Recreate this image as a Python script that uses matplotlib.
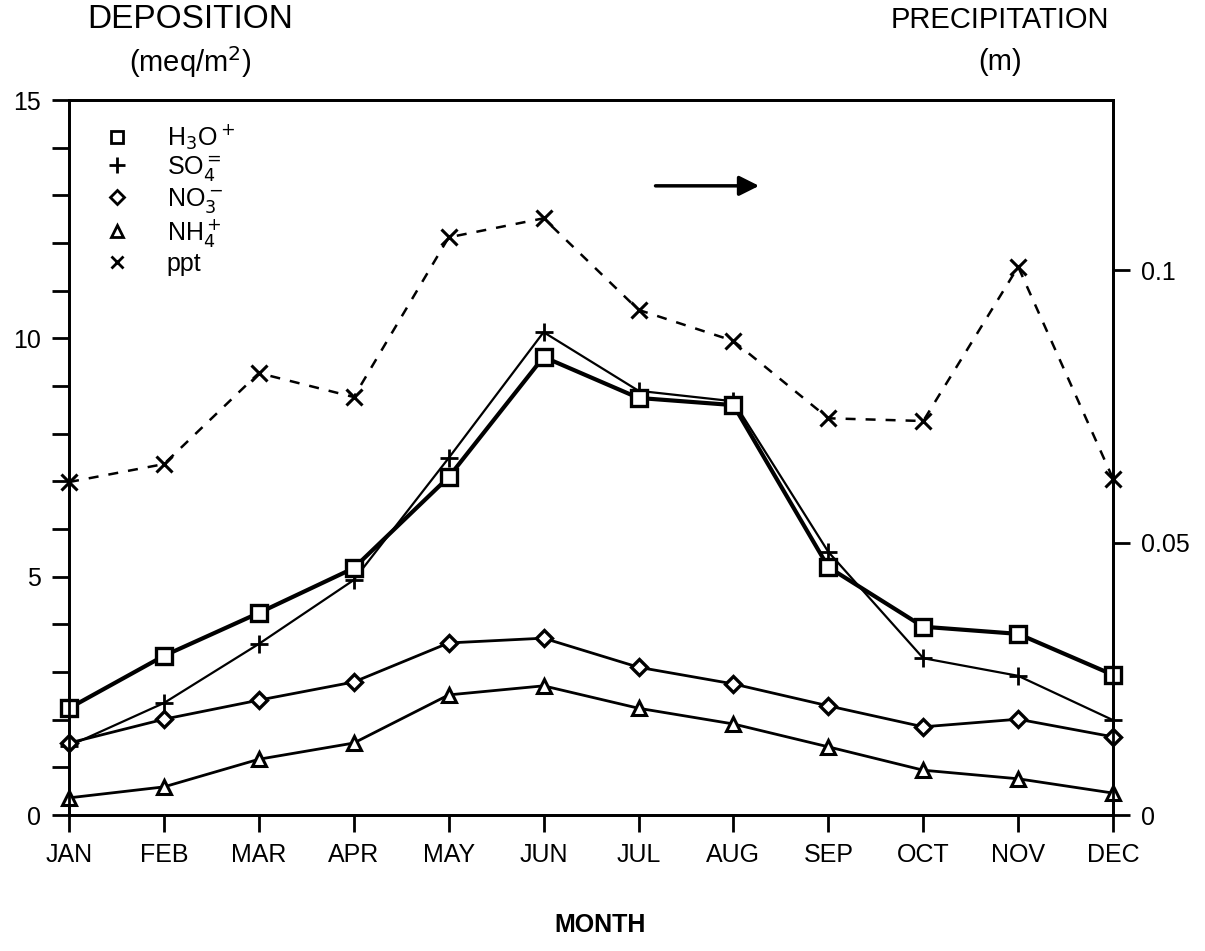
import matplotlib.pyplot as plt
from matplotlib.lines import Line2D

plt.rcParams['font.family'] = ['Liberation Sans', 'DejaVu Sans']

months = ['JAN', 'FEB', 'MAR', 'APR', 'MAY', 'JUN', 'JUL', 'AUG', 'SEP', 'OCT', 'NOV', 'DEC']

# deposition, meq/m2
h3o = [2.24, 3.34, 4.24, 5.18, 7.09, 9.61, 8.75, 8.60, 5.20, 3.95, 3.80, 2.94]
so4 = [1.45, 2.35, 3.59, 4.93, 7.49, 10.13, 8.90, 8.68, 5.52, 3.29, 2.92, 1.99]
no3 = [1.51, 2.01, 2.41, 2.79, 3.61, 3.71, 3.10, 2.75, 2.29, 1.85, 2.01, 1.64]
nh4 = [0.36, 0.59, 1.17, 1.51, 2.52, 2.71, 2.24, 1.91, 1.43, 0.94, 0.76, 0.46]

# precipitation, m
ppt = [0.0611, 0.0644, 0.0811, 0.0767, 0.1060, 0.1095, 0.0927, 0.0870, 0.0728, 0.0723, 0.1006, 0.0617]

x = list(range(len(months)))

fig = plt.figure(figsize=(12.05, 9.51), dpi=100)
ax = fig.add_axes([0.0573, 0.1430, 0.8664, 0.7518])
ax2 = ax.twinx()

ax.plot(x, h3o, color='black', lw=3, marker='s', ms=11, mfc='white', mew=2.4, clip_on=False, zorder=4)
ax.plot(x, so4, color='black', lw=1.6, marker='+', ms=13, mew=2, clip_on=False, zorder=3)
ax.plot(x, no3, color='black', lw=2, marker='D', ms=8, mfc='white', mew=2.4, clip_on=False, zorder=3)
ax.plot(x, nh4, color='black', lw=2, marker='^', ms=10, mfc='white', mew=2.2, clip_on=False, zorder=3)
ax2.plot(x, ppt, color='black', lw=1.8, ls=(0, (4, 4)), marker='x', ms=11, mew=2.2, clip_on=False)

ax.set_xlim(0, 11)
ax.set_ylim(0, 15)
ax2.set_ylim(0, 0.1312)

ax.set_xticks(x)
ax.set_xticklabels(months)
ax.set_yticks([0, 5, 10, 15])
ax.set_yticklabels(['0', '5', '10', '15'])
ax.set_yticks(range(16), minor=True)
ax2.set_yticks([0, 0.05, 0.1])
ax2.set_yticklabels(['0', '0.05', '0.1'])

for a in (ax, ax2):
    for s in a.spines.values():
        s.set_linewidth(2)
ax.tick_params(axis='both', which='both', direction='out', length=12, width=2, labelsize=18, pad=8)
ax.tick_params(axis='y', which='minor', length=12, width=2)
ax2.tick_params(axis='y', direction='out', length=12, width=2, labelsize=18, pad=8)

handles = [
    Line2D([], [], ls='none', marker='s', ms=9, mfc='white', mec='black', mew=2),
    Line2D([], [], ls='none', marker='+', ms=11, mec='black', mew=2),
    Line2D([], [], ls='none', marker='D', ms=7, mfc='white', mec='black', mew=2),
    Line2D([], [], ls='none', marker='^', ms=9, mfc='white', mec='black', mew=2),
    Line2D([], [], ls='none', marker='x', ms=9, mec='black', mew=2),
]
labels = ['H$_3$O$^+$', 'SO$_4^{=}$', 'NO$_3^-$', 'NH$_4^+$', 'ppt']
ax.legend(handles, labels, loc='upper left', frameon=False, fontsize=18,
          handletextpad=1.0, labelspacing=0.1, borderaxespad=0.5)

ax.annotate('', xy=(7.3, 13.2), xytext=(6.15, 13.2),
            arrowprops=dict(arrowstyle='-|>', color='black', lw=2.5, mutation_scale=30))

fig.text(190 / 1205, 1 - 20 / 951, 'DEPOSITION', ha='center', va='center', fontsize=24)
fig.text(190 / 1205, 1 - 62 / 951, '(meq/m$^2$)', ha='center', va='center', fontsize=21)
fig.text(1000 / 1205, 1 - 20 / 951, 'PRECIPITATION', ha='center', va='center', fontsize=21)
fig.text(1000 / 1205, 1 - 62 / 951, '(m)', ha='center', va='center', fontsize=21)
fig.text(600 / 1205, 1 - 925 / 951, 'MONTH', ha='center', va='center', fontsize=18, fontweight='bold')

fig.savefig('out.png', dpi=100)
